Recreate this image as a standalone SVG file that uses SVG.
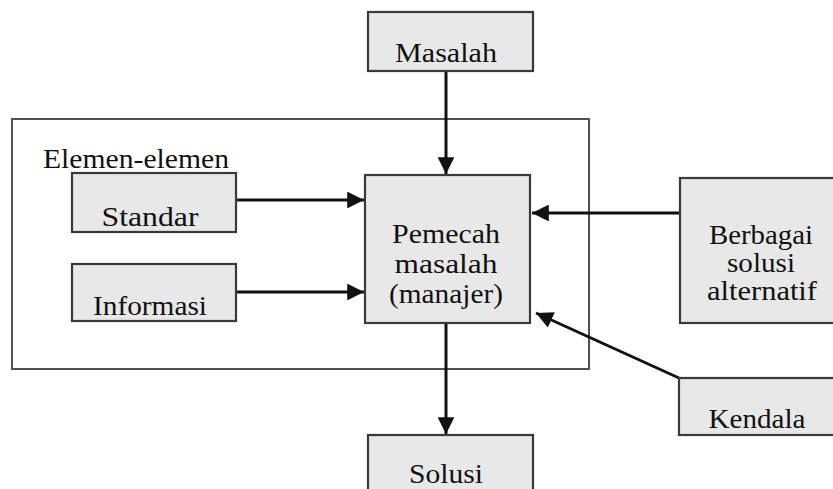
<svg xmlns="http://www.w3.org/2000/svg" width="833" height="489" viewBox="0 0 833 489">
<defs>
<style>
.box{fill:#e8e8e8;stroke:#3a3a3a;stroke-width:2.2}
.frame{fill:none;stroke:#505050;stroke-width:2}
.c{stroke:#111;stroke-width:3;fill:none;marker-end:url(#ah)}
</style>
<marker id="ah" viewBox="0 0 10 10" refX="10" refY="5" markerWidth="6" markerHeight="5.6" markerUnits="strokeWidth" orient="auto">
<path d="M0,0 L10,5 L0,10 z" fill="#111"/>
</marker>
</defs>
<rect width="833" height="489" fill="#fff"/>
<g id="frame" font-family="Liberation Serif, serif" font-size="27" fill="#111">
<rect class="frame" x="12" y="119" width="577" height="250"/>
<text x="43" y="168" textLength="186" lengthAdjust="spacingAndGlyphs">Elemen-elemen</text>
</g>
<g id="connectors">
<line class="c" x1="446" y1="71" x2="446" y2="174"/>
<line class="c" x1="236" y1="200" x2="364" y2="200"/>
<line class="c" x1="236" y1="292" x2="364" y2="292"/>
<line class="c" x1="680" y1="213" x2="532" y2="213"/>
<line class="c" x1="679" y1="378" x2="536" y2="313"/>
<line class="c" x1="446" y1="323" x2="446" y2="434"/>
</g>
<g font-family="Liberation Serif, serif" font-size="27" fill="#111" text-anchor="middle">
<g id="masalah">
<rect class="box" x="368" y="12" width="165" height="59"/>
<text x="446" y="62" textLength="102" lengthAdjust="spacingAndGlyphs">Masalah</text>
</g>
<g id="standar">
<rect class="box" x="72" y="173" width="164" height="59"/>
<text x="150" y="226" textLength="97" lengthAdjust="spacingAndGlyphs">Standar</text>
</g>
<g id="informasi">
<rect class="box" x="72" y="264" width="164" height="57"/>
<text x="150" y="315" textLength="114" lengthAdjust="spacingAndGlyphs">Informasi</text>
</g>
<g id="pemecah">
<rect class="box" x="365" y="175" width="165" height="148"/>
<text x="446" y="243" textLength="108" lengthAdjust="spacingAndGlyphs">Pemecah</text>
<text x="446" y="273" textLength="103" lengthAdjust="spacingAndGlyphs">masalah</text>
<text x="446" y="303" textLength="114" lengthAdjust="spacingAndGlyphs">(manajer)</text>
</g>
<g id="berbagai">
<rect class="box" x="680" y="178" width="160" height="145"/>
<text x="761" y="244" textLength="104" lengthAdjust="spacingAndGlyphs">Berbagai</text>
<text x="761" y="272" textLength="68" lengthAdjust="spacingAndGlyphs">solusi</text>
<text x="762" y="300" textLength="110" lengthAdjust="spacingAndGlyphs">alternatif</text>
</g>
<g id="kendala">
<rect class="box" x="679" y="378" width="161" height="57"/>
<text x="757" y="428" textLength="97" lengthAdjust="spacingAndGlyphs">Kendala</text>
</g>
<g id="solusi">
<rect class="box" x="368" y="435" width="165" height="70"/>
<text x="446" y="483" textLength="74" lengthAdjust="spacingAndGlyphs">Solusi</text>
</g>
</g>
</svg>
